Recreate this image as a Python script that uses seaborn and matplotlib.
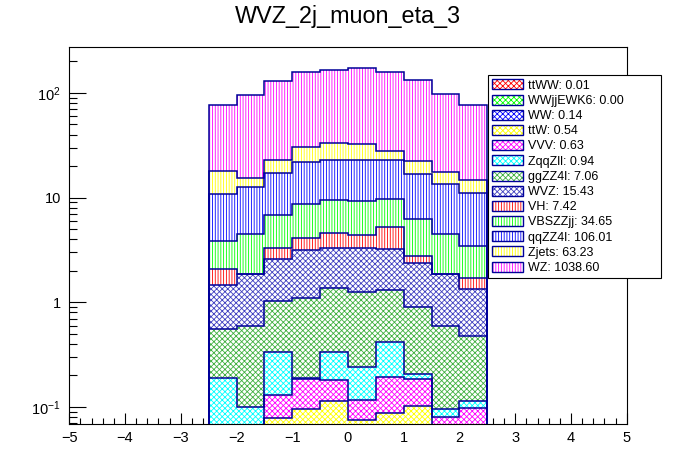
import numpy as np
import pandas as pd
import matplotlib
matplotlib.use("Agg")
import matplotlib.pyplot as plt
import seaborn as sns
from matplotlib.patches import Patch
from matplotlib.legend_handler import HandlerTuple
from matplotlib.ticker import FixedLocator, FixedFormatter, MultipleLocator, LogLocator, NullFormatter

# histogram binning (eta)
edges = [-2.5, -2.0, -1.5, -1.0, -0.5, 0.0, 0.5, 1.0, 1.5, 2.0, 2.5]
centers = [-2.25, -1.75, -1.25, -0.75, -0.25, 0.25, 0.75, 1.25, 1.75, 2.25]

# samples in stack order, bottom -> top (same order as the legend)
samples = ["ttWW", "WWjjEWK6", "WW", "ttW", "VVV", "ZqqZll", "ggZZ4l",
           "WVZ", "VH", "VBSZZjj", "qqZZ4l", "Zjets", "WZ"]
totals = [0.01, 0.00, 0.14, 0.54, 0.63, 0.94, 7.06,
          15.43, 7.42, 34.65, 106.01, 63.23, 1038.60]

# per-bin yields
ttWW = [0.001, 0.001, 0.001, 0.001, 0.001, 0.001, 0.001, 0.001, 0.001, 0.001]
WWjjEWK6 = [0.0, 0.0, 0.0, 0.0, 0.0, 0.0, 0.0, 0.0, 0.0, 0.0]
WW = [0.014, 0.014, 0.014, 0.014, 0.014, 0.014, 0.014, 0.014, 0.014, 0.014]
ttW = [0.02, 0.02, 0.063, 0.080, 0.098, 0.060, 0.072, 0.087, 0.02, 0.02]
VVV = [0.03, 0.03, 0.051, 0.090, 0.067, 0.041, 0.105, 0.084, 0.045, 0.062]
ZqqZll = [0.123, 0.034, 0.204, 0.003, 0.153, 0.123, 0.223, 0.020, 0.015, 0.016]
ggZZ4l = [0.364, 0.491, 0.689, 0.904, 1.028, 1.007, 0.887, 0.691, 0.495, 0.360]
WVZ = [0.902, 1.262, 1.554, 2.048, 1.963, 2.035, 1.906, 1.462, 1.262, 0.867]
VH = [0.612, 0.0, 0.705, 0.948, 1.239, 1.086, 1.998, 0.393, 0.0, 0.355]
VBSZZjj = [1.812, 2.612, 3.499, 4.551, 4.867, 4.858, 4.434, 3.458, 2.612, 1.733]
qqZZ4l = [6.95, 8.18, 10.30, 13.12, 13.45, 13.66, 13.24, 10.61, 8.95, 7.57]
Zjets = [7.02, 2.66, 5.80, 8.50, 10.16, 9.44, 5.01, 5.42, 4.05, 3.74]
WZ = [58.4, 80.3, 106.3, 127.3, 133.8, 139.7, 129.7, 109.9, 80.2, 61.5]

yields = {"ttWW": ttWW, "WWjjEWK6": WWjjEWK6, "WW": WW, "ttW": ttW, "VVV": VVV,
          "ZqqZll": ZqqZll, "ggZZ4l": ggZZ4l, "WVZ": WVZ, "VH": VH,
          "VBSZZjj": VBSZZjj, "qqZZ4l": qqZZ4l, "Zjets": Zjets, "WZ": WZ}

colors = {"ttWW": "#ff0000", "WWjjEWK6": "#00ff00", "WW": "#0000ff",
          "ttW": "#ffff00", "VVV": "#ff00ff", "ZqqZll": "#00ffff",
          "ggZZ4l": "#40b040", "WVZ": "#4040c0", "VH": "#ff0000",
          "VBSZZjj": "#00ff00", "qqZZ4l": "#0000ff", "Zjets": "#ffff00",
          "WZ": "#ff00ff"}
checker = "xxxxxx"
vlines = "||||||"
hatches = {s: (vlines if s in ("VH", "VBSZZjj", "qqZZ4l", "Zjets", "WZ") else checker)
           for s in samples}
line_col = "#000099"

rows = []
for s in samples:
    for c, w in zip(centers, yields[s]):
        rows.append((s, c, w))
df = pd.DataFrame(rows, columns=["sample", "eta", "weight"])

sns.set_style("ticks", {"axes.edgecolor": "black", "xtick.color": "black",
                        "ytick.color": "black", "text.color": "black",
                        "axes.labelcolor": "black"})
plt.rcParams["font.family"] = ["Liberation Sans", "DejaVu Sans"]
plt.rcParams["mathtext.fontset"] = "custom"
plt.rcParams["mathtext.rm"] = "Liberation Sans"
plt.rcParams["mathtext.it"] = "Liberation Sans:italic"
plt.rcParams["hatch.linewidth"] = 0.6

fig = plt.figure(figsize=(6.96, 4.72), dpi=100)
ax = fig.add_axes([0.0996, 0.1017, 0.8008, 0.7981])

# unique key colours so the drawn layers can be found again afterwards
key_pal = dict(zip(samples, sns.color_palette("husl", len(samples))))
sns.histplot(data=df, x="eta", weights="weight", hue="sample",
             hue_order=samples[::-1], bins=edges, multiple="stack",
             element="step", palette=key_pal, alpha=1, linewidth=0,
             legend=False, ax=ax)

for coll in list(ax.collections):
    fc = np.array(coll.get_facecolor()[0][:3])
    for s, kc in key_pal.items():
        if np.allclose(fc, kc, atol=1e-3):
            coll.set_facecolor("white")
            coll.set_edgecolor(colors[s])
            coll.set_linewidth(0)
            coll.set_hatch(hatches[s])
            break

# outlines of every stacked histogram
cum = np.zeros(len(centers))
for s in samples:
    cum = cum + np.array(yields[s])
    ax.stairs(cum, edges, baseline=1e-4, color=line_col, lw=1.1, zorder=3)

ax.set_yscale("log")
ax.set_xlim(-5, 5)
ax.set_ylim(0.0688, 273)
ax.set_xlabel("")
ax.set_ylabel("")

ax.xaxis.set_major_locator(MultipleLocator(1))
ax.xaxis.set_minor_locator(MultipleLocator(0.2))
ax.yaxis.set_major_locator(FixedLocator([0.1, 1, 10, 100]))
ax.yaxis.set_major_formatter(FixedFormatter(["$10^{-1}$", "1", "10", "$10^{2}$"]))
ax.yaxis.set_minor_locator(LogLocator(base=10, subs=np.arange(2, 10)))
ax.yaxis.set_minor_formatter(NullFormatter())

ax.tick_params(axis="both", which="both", direction="in", top=False, right=False,
               width=0.8, labelsize=10.5)
ax.tick_params(axis="x", which="major", length=8, pad=5)
ax.tick_params(axis="x", which="minor", length=4)
ax.tick_params(axis="y", which="major", length=12.5, pad=6)
ax.tick_params(axis="y", which="minor", length=6)
for sp in ax.spines.values():
    sp.set_linewidth(0.8)
    sp.set_visible(True)

fig.text(0.5, 0.9506, "WVZ_2j_muon_eta_3", ha="center", va="baseline", fontsize=16.8)

handles = []
labels = []
for s, t in zip(samples, totals):
    fill = Patch(facecolor="white", edgecolor=colors[s], hatch=hatches[s], lw=0)
    frame = Patch(facecolor="none", edgecolor=line_col, lw=1.0)
    handles.append((fill, frame))
    labels.append(f"{s}: {t:.2f}")

leg = fig.legend(handles, labels, handler_map={tuple: HandlerTuple(ndivide=1, pad=0)},
                 loc="upper left", bbox_to_anchor=(0.7011, 0.8405, 0.249, 0.0),
                 mode="expand", borderaxespad=0, fontsize=9, frameon=True,
                 fancybox=False, framealpha=1, edgecolor="black",
                 handlelength=2.45, handleheight=0.85, handletextpad=0.45,
                 labelspacing=0.23, borderpad=0.33)
leg.get_frame().set_linewidth(0.8)

fig.savefig("out.png", dpi=100)
